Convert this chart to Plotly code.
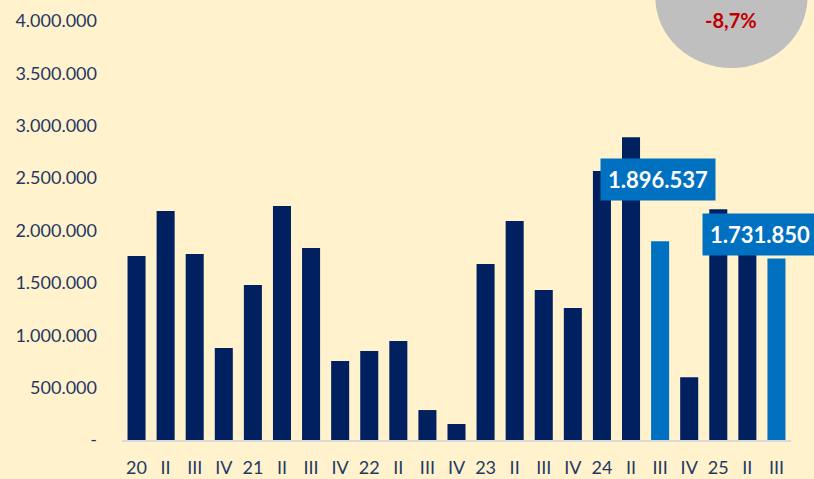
import plotly.graph_objects as go

# quarters 2020 Q1 .. 2025 Q3
quarters = ["20", "II", "III", "IV", "21", "II", "III", "IV", "22", "II", "III", "IV",
            "23", "II", "III", "IV", "24", "II", "III", "IV", "25", "II", "III"]
values = [1756000, 2185000, 1775000, 878000, 1479000, 2233000, 1832000, 754000,
          849000, 945000, 286000, 153000, 1679000, 2090000, 1431000, 1260000,
          2567000, 2890000, 1896537, 600000, 2204000, 1960000, 1731850]
highlight = [18, 22]   # Q3 2024 and Q3 2025
yoy_text = "-8,7%"

y_ticks = [0, 500000, 1000000, 1500000, 2000000, 2500000, 3000000, 3500000, 4000000]


def fmt(v):
    if v == 0:
        return "-"
    return f"{v:,}".replace(",", ".")


navy = "#002060"
blue = "#0070C0"
colors = [blue if i in highlight else navy for i in range(len(values))]
xs = list(range(len(values)))

fig = go.Figure(go.Bar(x=xs, y=values, marker=dict(color=colors, line=dict(width=0)),
                       width=0.62))

# value boxes for the highlighted quarters
fig.add_annotation(x=18, y=values[18], xref="x", yref="y", text=fmt(values[18]),
                   showarrow=False, yanchor="bottom", yshift=40, xshift=-2,
                   bgcolor=blue, borderpad=7,
                   font=dict(family="Lato", size=22, color="white", weight="bold"))
fig.add_annotation(x=22, y=values[22], xref="x", yref="y", text=fmt(values[22]),
                   showarrow=False, yanchor="bottom", yshift=3, xshift=-16,
                   bgcolor=blue, borderpad=7,
                   font=dict(family="Lato", size=22, color="white", weight="bold"))

# grey YoY bubble in the top right corner
fig.add_shape(type="circle", xref="paper", yref="paper",
              x0=(655 - 122.5) / 668, x1=(807 - 122.5) / 668,
              y0=(440 - 68) / 419, y1=(440 + 74) / 419,
              fillcolor="#BFBFBF", line=dict(width=0), layer="above")
fig.add_annotation(xref="paper", yref="paper", x=(733 - 122.5) / 668, y=(440 - 3) / 419,
                   text="YoY", showarrow=False, xanchor="center", yanchor="bottom",
                   font=dict(family="Lato", size=18, color="white", weight="bold"))
fig.add_annotation(xref="paper", yref="paper", x=(731 - 122.5) / 668, y=(440 - 20) / 419,
                   text=yoy_text, showarrow=False, xanchor="center", yanchor="middle",
                   font=dict(family="Lato", size=20, color="#C00000", weight="bold"))

fig.update_layout(
    width=814, height=479,
    margin=dict(l=122, r=23, t=21, b=39),
    paper_bgcolor="#FFF2CC", plot_bgcolor="#FFF2CC",
    showlegend=False,
    font=dict(family="Lato", size=18, color="#1F3864"),
)
fig.update_xaxes(tickmode="array", tickvals=xs, ticktext=quarters, range=[-0.5, 22.5],
                 showgrid=False, showline=True, linecolor="#D9D9D9", linewidth=2,
                 ticks="", ticklabelstandoff=10, automargin=False)
fig.update_yaxes(range=[0, 4000000], tickmode="array", tickvals=y_ticks,
                 ticktext=[fmt(v) for v in y_ticks], showgrid=False, zeroline=False,
                 showline=False, ticks="", ticklabelstandoff=24, automargin=False)

fig.write_html("out.html", config={"displayModeBar": False},
               post_script="document.body.style.margin='0';")
